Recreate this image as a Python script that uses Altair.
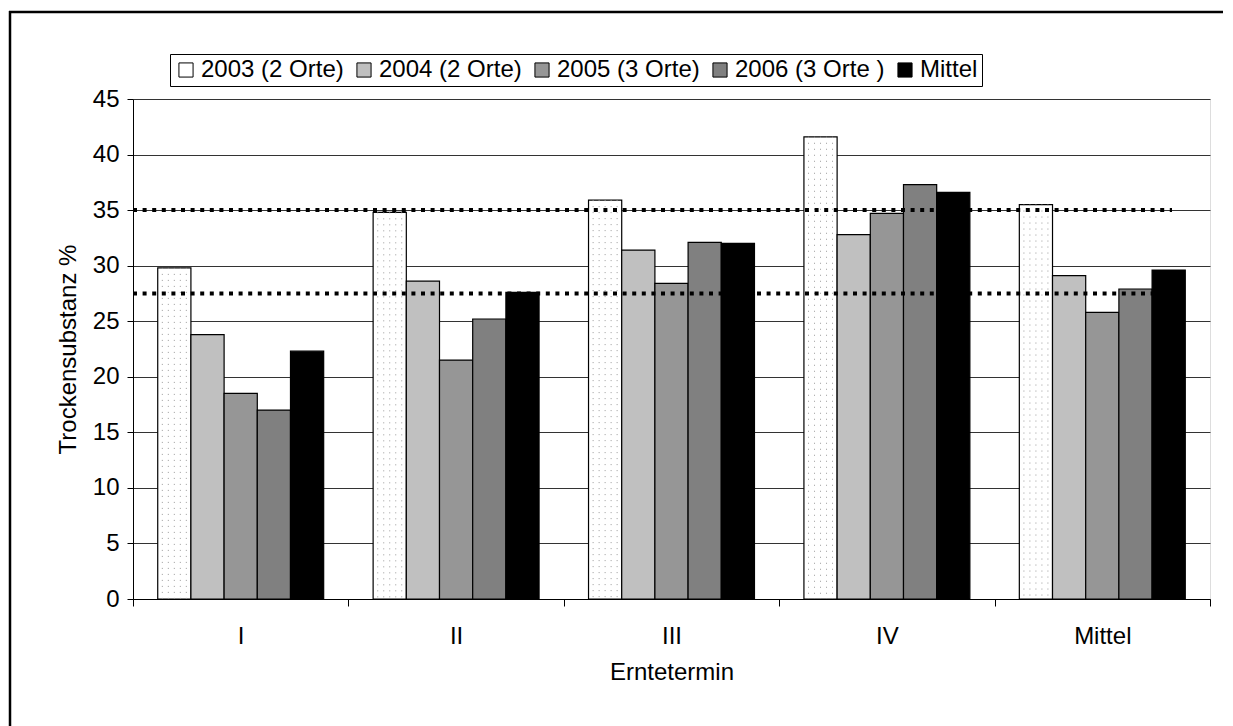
import altair as alt
import pandas as pd

# ---- data ----
termine = ["I", "II", "III", "IV", "Mittel"]
serien = ["2003 (2 Orte)", "2004 (2 Orte)", "2005 (3 Orte)", "2006 (3 Orte )", "Mittel"]
w2003 = [29.8, 34.8, 35.9, 41.6, 35.5]
w2004 = [23.8, 28.6, 31.4, 32.8, 29.1]
w2005 = [18.5, 21.5, 28.4, 34.7, 25.8]
w2006 = [17.0, 25.2, 32.1, 37.3, 27.9]
wmittel = [22.3, 27.6, 32.0, 36.6, 29.6]
grenzen = [35.0, 27.5]
y_ticks = [0, 5, 10, 15, 20, 25, 30, 35, 40, 45]

farben = ["#ffffff", "#c0c0c0", "#969696", "#808080", "#000000"]
FONT = "Liberation Sans"
FS = 24

W, H = 1077, 500
PAD_OUTER = 0.745  # outer padding of the sub-bands, in sub-band steps

rows = []
for serie, werte in zip(serien, [w2003, w2004, w2005, w2006, wmittel]):
    for t, v in zip(termine, werte):
        rows.append({"Termin": t, "Serie": serie, "Wert": v})
df = pd.DataFrame(rows)
df_2003 = df[df["Serie"] == serien[0]]
df_lines = pd.DataFrame({"Wert": grenzen})
df_frame = pd.DataFrame({"k": [0]})

x_enc = alt.X(
    "Termin:N",
    sort=termine,
    scale=alt.Scale(domain=termine, paddingInner=0, paddingOuter=0),
    axis=alt.Axis(
        tickBand="extent", labelAngle=0, grid=False, domainColor="black",
        tickColor="black", tickSize=7, labelFontSize=FS, labelFont=FONT,
        labelColor="black", labelPadding=18, titleFontSize=FS, titleFont=FONT,
        titleFontWeight="normal", titleColor="black", titlePadding=12,
    ),
    title="Erntetermin",
)
xoff_enc = alt.XOffset(
    "Serie:N", sort=serien,
    scale=alt.Scale(domain=serien, paddingInner=0, paddingOuter=PAD_OUTER),
)
y_enc = alt.Y(
    "Wert:Q",
    scale=alt.Scale(domain=[0, 45], nice=False),
    axis=alt.Axis(
        values=y_ticks, grid=True, gridColor="#333333", gridWidth=1,
        domainColor="black", tickColor="black", tickSize=6,
        labelFontSize=FS, labelFont=FONT, labelColor="black", labelPadding=8,
        titleFontSize=FS, titleFont=FONT, titleFontWeight="normal",
        titleColor="black", titlePadding=12,
    ),
    title="Trockensubstanz %",
)

# outer frame: only its top and left edges lie inside the picture
frame_top = alt.Chart(df_frame).mark_rule(color="black", strokeWidth=2.5).encode(
    x=alt.value(-124), x2=alt.value(1090), y=alt.value(-87)
)
frame_left = alt.Chart(df_frame).mark_rule(color="black", strokeWidth=2.5).encode(
    x=alt.value(-123), y=alt.value(-88), y2=alt.value(627)
)

bars = alt.Chart(df).mark_bar(stroke="black", strokeWidth=1.2).encode(
    x=x_enc,
    xOffset=xoff_enc,
    y=y_enc,
    color=alt.Color(
        "Serie:N",
        sort=serien,
        scale=alt.Scale(domain=serien, range=farben),
        legend=alt.Legend(
            title=None, orient="none", legendX=37, legendY=-45,
            direction="horizontal", columns=5, symbolType="square",
            symbolSize=200, symbolStrokeColor="black", symbolStrokeWidth=1,
            labelFontSize=FS, labelFont=FONT, labelColor="black",
            labelOffset=3, columnPadding=8, strokeColor="black",
            fillColor="white", padding=4,
        ),
    ),
)

# dotted fill of the 2003 bars: thin dashed columns inside the first sub-band
band = W / len(termine)
sub_step = band / (len(serien) + 2 * PAD_OUTER)
center_2003 = PAD_OUTER * sub_step + sub_step / 2
dots = []
for dx in [-12, -6, 0, 6, 12]:
    dots.append(
        alt.Chart(df_2003).mark_rule(
            strokeDash=[1, 5], color="#9a9a9a", strokeWidth=1
        ).encode(
            x=alt.X("Termin:N", sort=termine, bandPosition=(center_2003 + dx) / band),
            y=alt.Y("Wert:Q"),
            y2=alt.datum(0),
        )
    )

lines = alt.Chart(df_lines).mark_rule(
    color="black", strokeWidth=4, strokeDash=[4, 5.6]
).encode(
    y=alt.Y("Wert:Q"), x=alt.value(0), x2=alt.value(1039)
)

chart = alt.layer(frame_top, frame_left, bars, *dots, lines).properties(
    width=W, height=H,
    autosize="none",
    padding={"left": 133, "top": 99, "right": 23, "bottom": 127},
).configure_view(stroke=None).configure(background="white")

chart.save("out.html", embed_options={"renderer": "svg", "actions": False})
